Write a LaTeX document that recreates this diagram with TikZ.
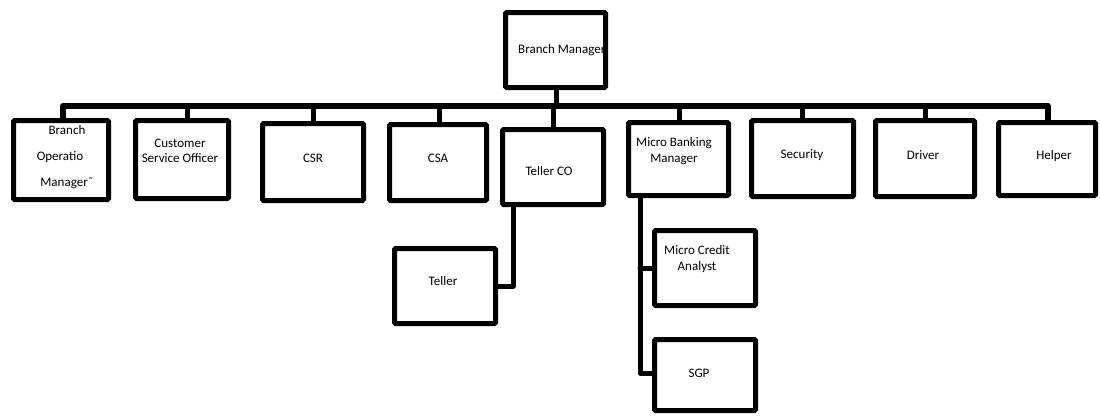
\documentclass[tikz,border=0pt]{standalone}
\usepackage{fontspec}
\setmainfont{Carlito}
\begin{document}
\begin{tikzpicture}[x=1pt,y=-1pt,
  box/.style={draw=black,line width=5pt,rectangle,rounded corners=1.2pt,inner sep=0pt,fill=white},
  conn/.style={draw=black,line width=5pt,line join=round,line cap=round},
  bus/.style={draw=black,line width=6pt,line join=round,line cap=round},
  lbl/.style={inner sep=0pt,align=center,font=\fontsize{13}{15.5}\selectfont}]
\useasboundingbox[fill=white] (0,0) rectangle (1100,415);

% bus and drops (drawn first, under the boxes)
\coordinate (busL) at (63,106);
\coordinate (busR) at (1048,106);
\coordinate (bmdrop) at (556,90);
\coordinate (csodrop) at (187,118);
\coordinate (csrdrop) at (313,121);
\coordinate (csadrop) at (439,122);
\coordinate (tcodrop) at (553,127);
\coordinate (mbmtop) at (679,120);
\coordinate (secdrop) at (802,118);
\coordinate (drvdrop) at (925,118);
\coordinate (hlpdrop) at (1048,120);
\coordinate (bomdrop) at (63,118);

\draw[bus] (bomdrop) -- (busL) -- (busR) -- (hlpdrop);
\draw[conn] (bmdrop) -- (bmdrop |- busL);
\draw[conn] (csodrop) -- (csodrop |- busL);
\draw[conn] (csrdrop) -- (csrdrop |- busL);
\draw[conn] (csadrop) -- (csadrop |- busL);
\draw[conn] (tcodrop) -- (tcodrop |- busL);
\draw[conn] (mbmtop) -- (mbmtop |- busL);
\draw[conn] (secdrop) -- (secdrop |- busL);
\draw[conn] (drvdrop) -- (drvdrop |- busL);

% boxes
\node[box,minimum width=100pt,minimum height=75pt] (bm)  at (555.5,50) {};
\node[box,minimum width=95pt,minimum height=79pt]  (bom) at (61,160) {};
\node[box,minimum width=93pt,minimum height=78pt]  (cso) at (182,159.5) {};
\node[box,minimum width=101pt,minimum height=77pt] (csr) at (313,162) {};
\node[box,minimum width=97pt,minimum height=76pt]  (csa) at (438,162.5) {};
\node[box,minimum width=101pt,minimum height=75pt] (tco) at (553,167) {};
\node[box,minimum width=100pt,minimum height=73pt] (mbm) at (678.5,159) {};
\node[box,minimum width=102pt,minimum height=76pt] (sec) at (802.5,158.5) {};
\node[box,minimum width=99pt,minimum height=76pt]  (drv) at (925,158.5) {};
\node[box,minimum width=97pt,minimum height=73pt]  (hlp) at (1047,159) {};
\node[box,minimum width=101pt,minimum height=75pt] (tel) at (445,286) {};
\node[box,minimum width=101pt,minimum height=75pt] (mca) at (705,268) {};
\node[box,minimum width=101pt,minimum height=71pt] (sgp) at (705,375) {};

% sub connectors
\coordinate (tcodown) at ([xshift=-40pt]tco.south);
\draw[conn] (tcodown) |- (tel.east);
\coordinate (mbmdown) at ([xshift=-38.5pt]mbm.south);
\draw[conn] (mbmdown) |- ([yshift=2pt]sgp.west);
\draw[conn] (mbmdown |- mca.west) -- (mca.west);

% labels
\node[lbl,anchor=west] (tbm) at (518,50) {Branch Manager};
\node[lbl] (tbom1) at (67,130) {Branch};
\node[lbl] (tbom2) at (60,157) {Operatio};
\node[lbl] (tbom3) at (67,183) {Manager˜};
\node[lbl] (tcso) at (180,151) {Customer\\Service Officer};
\node[lbl] (tcsr) at (313,158) {CSR};
\node[lbl] (tcsa) at (438,158) {CSA};
\node[lbl] (ttco) at (549,171) {Teller CO};
\node[lbl] (tmbm) at (674,151) {Micro Banking\\Manager};
\node[lbl] (tsec) at (802,155) {Security};
\node[lbl] (tdrv) at (923,155) {Driver};
\node[lbl] (thlp) at (1054,156) {Helper};
\node[lbl] (ttel) at (443,281) {Teller};
\node[lbl] (tmca) at (697,259) {Micro Credit\\Analyst};
\node[lbl] (tsgp) at (699,373) {SGP};
\end{tikzpicture}
\end{document}
